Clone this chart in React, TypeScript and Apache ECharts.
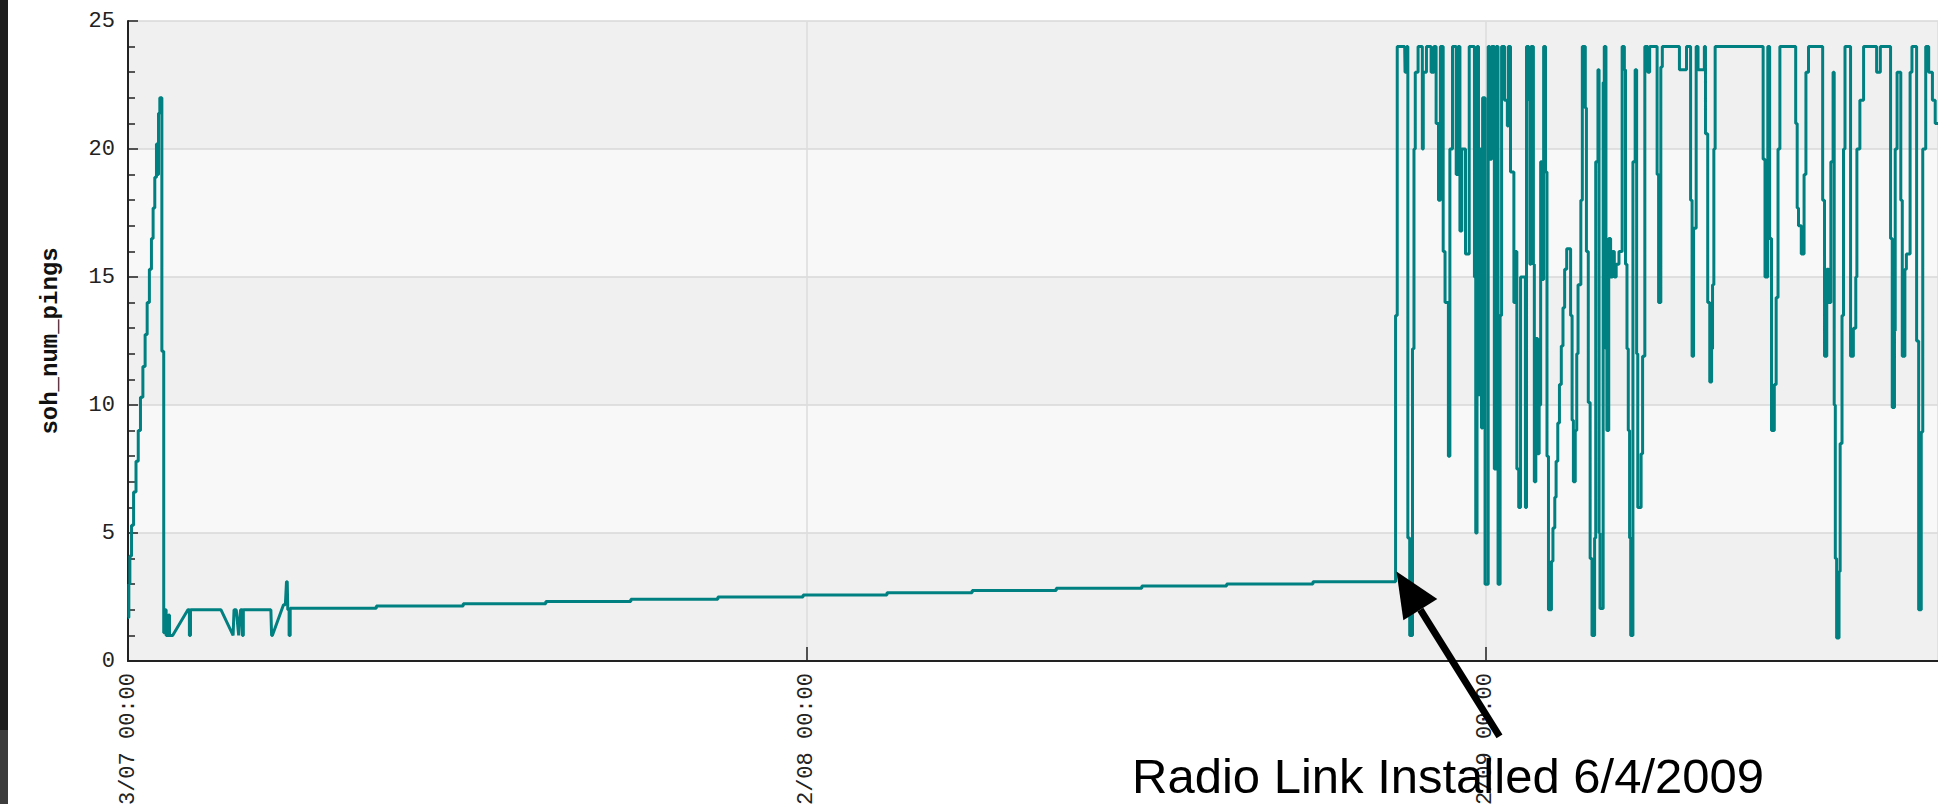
import React, { useEffect, useRef } from "react";
import * as echarts from "echarts";

// x values are days since the first tick (07/23/07 00:00); y values are soh_num_pings
const tickDays = [0, 365, 730];
const tickLabels = ["07/23/07 00:00", "07/22/08 00:00", "07/22/09 00:00"];
const yTickValues = [0, 5, 10, 15, 20, 25];

const rampPoints: [number, number][] = [
  [0, 1.7], [0.45, 1.7], [0.45, 3.0], [1.0, 3.0], [1.0, 4.1], [1.9, 4.1], [1.9, 5.3], [3.0, 5.3],
  [3.0, 6.6], [4.3, 6.6], [4.3, 7.8], [5.5, 7.8], [5.5, 9.0], [6.7, 9.0], [6.7, 10.3], [8.0, 10.3],
  [8.0, 11.5], [9.2, 11.5], [9.2, 12.75], [10.3, 12.75], [10.3, 14.0], [11.5, 14.0], [11.5, 15.3],
  [12.6, 15.3], [12.6, 16.5], [13.5, 16.5], [13.5, 17.7], [14.4, 17.7], [14.4, 18.9], [15.3, 18.9],
  [15.3, 20.2], [16.0, 20.2], [16.0, 19.0], [16.4, 19.0], [16.4, 21.4], [17.1, 21.4], [17.1, 22.0],
  [18.2, 22.0], [18.2, 12.1], [19.2, 12.1], [19.2, 1.1],
];

const lowPoints: [number, number][] = [
  [20.0, 1.1], [20.0, 2.0], [20.5, 2.0], [20.5, 1.0], [21.8, 1.0], [21.8, 1.8], [22.3, 1.8], [22.3, 1.0],
  [24.0, 1.0], [32.2, 2.0], [33.0, 2.0], [33.0, 1.0], [33.6, 1.0], [33.6, 2.0], [50.0, 2.0], [56.5, 1.0],
  [57.0, 2.0], [58.2, 2.0], [59.5, 1.0], [60.5, 2.0], [61.5, 2.0], [61.5, 1.0], [62.0, 1.0], [62.0, 2.0],
  [76.8, 2.0], [77.2, 1.0], [77.6, 1.0], [83.6, 2.2], [84.6, 2.2], [85.2, 3.1], [85.6, 3.1], [85.9, 2.0],
  [86.6, 2.0], [86.6, 1.0], [87.2, 1.0], [87.2, 2.06],
];

const trendPoints: [number, number][] = [
  [133.5, 2.06], [133.5, 2.15], [180.2, 2.15], [180.2, 2.24], [224.6, 2.24], [224.6, 2.32],
  [270.3, 2.32], [270.3, 2.41], [317.1, 2.41], [317.1, 2.5], [362.9, 2.5], [362.9, 2.58],
  [408.0, 2.58], [408.0, 2.67], [453.8, 2.67], [453.8, 2.75], [499.0, 2.75], [499.0, 2.84],
  [545.0, 2.84], [545.0, 2.93], [590.6, 2.93], [590.6, 3.01], [637.0, 3.01], [637.0, 3.1], [681.4, 3.1],
];

const radioPoints: [number, number][] = [
  [681.4, 13.5], [682.3, 13.5], [682.3, 24], [686.3, 24], [686.5, 23], [687.2, 23], [687.4, 24], [688, 24],
  [688, 4.8], [689, 4.8], [689, 1], [690.5, 1], [690.5, 12.2], [691.3, 12.2], [691.3, 20], [692, 20],
  [692, 23], [693.5, 23], [693.5, 24], [695.8, 24], [695.8, 20], [696.3, 20], [696.3, 23], [698, 23],
  [698, 24], [700.5, 24], [700.5, 23], [702, 23], [702, 24], [703.2, 24], [703.2, 21], [704.5, 21],
  [704.5, 18], [705.5, 18], [705.5, 24], [707, 24], [707, 16], [708, 16], [708, 14], [709.8, 14],
  [709.8, 8], [710.6, 8], [710.6, 20], [712, 20], [712, 24], [714, 24], [714, 19], [715, 19],
  [715, 24], [716, 24], [716, 16.8], [717, 16.8], [717, 20], [719, 20], [719, 15.9], [721, 15.9],
  [721, 24], [723.8, 24], [723.8, 15], [724.5, 15], [724.5, 5], [725.2, 5], [725.2, 24], [726, 24],
  [726, 10.4], [727, 10.4], [727, 20], [727.6, 20], [727.6, 9.1], [728.2, 9.1], [728.2, 22], [729.5, 22],
  [729.5, 3], [731.2, 3], [731.2, 24], [732, 24], [732, 19.6], [733, 19.6], [733, 24], [734.5, 24],
  [734.5, 7.5], [735.5, 7.5], [735.5, 24], [736.5, 24], [736.5, 3], [737.6, 3], [737.6, 13.5], [738.4, 13.5],
  [738.4, 24], [740, 24], [740, 21.9], [741.5, 21.9], [741.5, 20.9], [742, 20.9], [742, 24], [743.2, 24],
  [743.2, 19.1], [745, 19.1], [745, 14], [745.8, 14], [745.8, 16], [746.6, 16], [746.6, 7.5], [747.6, 7.5],
  [747.6, 6], [748.6, 6], [748.6, 15], [751.2, 15], [751.2, 6], [751.8, 6], [751.8, 24], [753, 24],
  [753, 21.9], [753.6, 21.9], [753.6, 15.5], [754.2, 15.5], [754.2, 24], [755.5, 24], [755.5, 15.5], [756, 15.5],
  [756, 7], [756.8, 7], [756.8, 12.6], [757.8, 12.6], [757.8, 8.1], [758.6, 8.1], [758.6, 10], [759.4, 10],
  [759.4, 19.5], [760, 19.5], [760, 14.9], [761, 14.9], [761, 24], [762, 24], [762, 19.1], [762.8, 19.1],
  [762.8, 8], [763.6, 8], [763.6, 2], [765.2, 2], [765.2, 3.9], [766, 3.9], [766, 5.2], [767, 5.2],
  [767, 6.4], [767.7, 6.4], [767.7, 7.8], [768.6, 7.8], [768.6, 9.3], [769.5, 9.3], [769.5, 10.8], [770.5, 10.8],
  [770.5, 12.3], [771.4, 12.3], [771.4, 13.8], [772.3, 13.8], [772.3, 15.3], [773.4, 15.3], [773.4, 16.1], [775.5, 16.1],
  [775.5, 13.5], [776.3, 13.5], [776.3, 9.4], [777, 9.4], [777, 7], [778, 7], [778, 9], [778.8, 9],
  [778.8, 12], [779.5, 12], [779.5, 14.7], [781, 14.7], [781, 18], [781.8, 18], [781.8, 24], [783.4, 24],
  [783.4, 21.6], [784, 21.6], [784, 16], [785, 16], [785, 10.1], [786, 10.1], [786, 4], [787, 4],
  [787, 1], [788.4, 1], [788.4, 4.8], [789, 4.8], [789, 19.5], [790.2, 19.5], [790.2, 23.1], [790.8, 23.1],
  [790.8, 5], [791.3, 5], [791.3, 2.05], [793, 2.05], [793, 22.6], [793.6, 22.6], [793.6, 24], [794.5, 24],
  [794.5, 12.2], [795, 12.2], [795, 9], [796, 9], [796, 16.5], [797, 16.5], [797, 15], [798, 15],
  [798, 16], [799, 16], [799, 15], [800, 15], [800, 15.5], [801.5, 15.5], [801.5, 16], [803.2, 16],
  [803.2, 24], [804.4, 24], [804.4, 23.1], [805, 23.1], [805, 15.5], [805.8, 15.5], [805.8, 12.2], [806.5, 12.2],
  [806.5, 9], [807.2, 9], [807.2, 4.8], [807.8, 4.8], [807.8, 1], [809, 1], [809, 19.5], [810.2, 19.5],
  [810.2, 23.1], [811, 23.1], [811, 12], [811.6, 12], [811.6, 6], [813.4, 6], [813.4, 8.1], [814.2, 8.1],
  [814.2, 11.9], [815.4, 11.9], [815.4, 24], [817, 24], [817, 23], [818, 23], [818, 24], [822, 24],
  [822, 19], [822.8, 19], [822.8, 14], [824, 14], [824, 23.2], [824.8, 23.2], [824.8, 24], [834, 24],
  [834, 23.1], [837.8, 23.1], [837.8, 24], [840, 24], [840, 18], [840.8, 18], [840.8, 11.9], [841.6, 11.9],
  [841.6, 16.9], [843, 16.9], [843, 24], [844, 24], [844, 23.1], [847.4, 23.1], [847.4, 24], [848, 24],
  [848, 20.6], [849.2, 20.6], [849.2, 14], [850.3, 14], [850.3, 10.9], [851.3, 10.9], [851.3, 12.2], [851.8, 12.2],
  [851.8, 14.7], [852.5, 14.7], [852.5, 20], [853.2, 20], [853.2, 24], [879, 24], [879, 19.6], [880, 19.6],
  [880, 15], [881.5, 15], [881.5, 24], [882.5, 24], [882.5, 16.5], [883.5, 16.5], [883.5, 9], [885, 9],
  [885, 10.8], [886, 10.8], [886, 14.2], [887, 14.2], [887, 20], [888, 20], [888, 24], [896.5, 24],
  [896.5, 21], [897.3, 21], [897.3, 17.7], [898, 17.7], [898, 17], [899.5, 17], [899.5, 15.9], [901, 15.9],
  [901, 19], [902, 19], [902, 23], [903.4, 23], [903.4, 24], [911, 24], [911, 18], [912, 18],
  [912, 11.9], [913.2, 11.9], [913.2, 15.3], [914.2, 15.3], [914.2, 14], [915.4, 14], [915.4, 19.5], [916.6, 19.5],
  [916.6, 23], [917.2, 23], [917.2, 10], [917.8, 10], [917.8, 4], [918.5, 4], [918.5, 0.9], [919.8, 0.9],
  [919.8, 3.5], [920.4, 3.5], [920.4, 8.5], [921.4, 8.5], [921.4, 13.5], [922.2, 13.5], [922.2, 20], [923, 20],
  [923, 24], [926, 24], [926, 11.9], [927.5, 11.9], [927.5, 13], [928.8, 13], [928.8, 15], [929.4, 15],
  [929.4, 20], [931, 20], [931, 21.9], [933, 21.9], [933, 24], [940, 24], [940, 23], [942, 23],
  [942, 24], [947.5, 24], [947.5, 16.5], [948.4, 16.5], [948.4, 9.9], [949.6, 9.9], [949.6, 12.9], [950, 12.9],
  [950, 20], [951, 20], [951, 23], [953, 23], [953, 18], [953.8, 18], [953.8, 11.9], [955.2, 11.9],
  [955.2, 15.3], [956, 15.3], [956, 15.9], [958, 15.9], [958, 23], [959, 23], [959, 24], [961.5, 24],
  [961.5, 12.5], [962.6, 12.5], [962.6, 2], [964, 2], [964, 8.95], [964.8, 8.95], [964.8, 20], [966.4, 20],
  [966.4, 24], [968, 24], [968, 23], [970, 23], [970, 21.9], [971.5, 21.9], [971.5, 21], [973, 21],
];

const annotationText = "Radio Link Installed 6/4/2009";
const installPoint: [number, number] = [681.9, 3.5];

export default function App() {
  const ref = useRef<HTMLDivElement>(null);

  useEffect(() => {
    if (!ref.current) return;
    const chart = echarts.init(ref.current, null, { renderer: "svg" });
    const data = [...rampPoints, ...lowPoints, ...trendPoints, ...radioPoints];
    const mono = "'Liberation Mono', 'DejaVu Sans Mono', monospace";

    chart.setOption({
      animation: false,
      backgroundColor: "#ffffff",
      grid: {
        left: 128,
        right: 0,
        top: 21,
        bottom: 143,
        containLabel: false,
        outerBoundsMode: "none",
      },
      xAxis: {
        type: "value",
        min: 0,
        max: 973,
        interval: 365,
        axisLine: { show: true, onZero: false, lineStyle: { color: "#222", width: 2 } },
        axisTick: { show: true, inside: true, length: 14, lineStyle: { color: "#222", width: 1.5 } },
        axisLabel: {
          rotate: 90,
          margin: 12,
          color: "#222",
          fontFamily: mono,
          fontSize: 22,
          showMaxLabel: false,
          formatter: (v: number) => {
            const i = tickDays.indexOf(v);
            return i >= 0 ? tickLabels[i] : "";
          },
        },
        splitLine: { show: true, lineStyle: { color: "#dcdcdc", width: 1.5 } },
      },
      yAxis: {
        type: "value",
        min: yTickValues[0],
        max: yTickValues[yTickValues.length - 1],
        interval: 5,
        name: "soh_num_pings",
        nameLocation: "middle",
        nameGap: 66,
        nameRotate: 90,
        nameTextStyle: { fontFamily: mono, fontWeight: "bold", fontSize: 24, color: "#111" },
        axisLine: { show: true, lineStyle: { color: "#222", width: 2 } },
        axisTick: { show: true, inside: true, length: 10, lineStyle: { color: "#222", width: 1.5 } },
        minorTick: { show: true, splitNumber: 5, length: 7, lineStyle: { color: "#222", width: 1.5 } },
        axisLabel: { margin: 13, color: "#222", fontFamily: mono, fontSize: 22 },
        splitLine: { show: true, lineStyle: { color: "#d9d9d9", width: 1.5 } },
        splitArea: { show: true, areaStyle: { color: ["#f0f0f0", "#f8f8f8"] } },
      },
      series: [
        {
          type: "line",
          data,
          showSymbol: false,
          symbol: "none",
          clip: true,
          lineStyle: { color: "#008080", width: 3 },
          z: 3,
        },
      ],
    });

    const tip = chart.convertToPixel({ gridIndex: 0 }, installPoint) as number[];
    const tx = tip[0];
    const ty = tip[1];
    const dx = 103;
    const dy = 165;
    const len = Math.sqrt(dx * dx + dy * dy);
    const ux = dx / len;
    const uy = dy / len;
    const headLen = 45;
    const headHalf = 20;
    const bx = tx + ux * headLen;
    const by = ty + uy * headLen;

    chart.setOption({
      graphic: [
        { type: "rect", shape: { x: 0, y: 0, width: 8, height: 730 }, style: { fill: "#1e1e1e" }, z: 10 },
        { type: "rect", shape: { x: 0, y: 730, width: 8, height: 74 }, style: { fill: "#3c3c3c" }, z: 10 },
        {
          type: "line",
          shape: { x1: bx, y1: by, x2: tx + dx, y2: ty + dy },
          style: { stroke: "#000", lineWidth: 7 },
          z: 20,
        },
        {
          type: "polygon",
          shape: {
            points: [
              [tx, ty],
              [bx - uy * headHalf, by + ux * headHalf],
              [bx + uy * headHalf, by - ux * headHalf],
            ],
          },
          style: { fill: "#000" },
          z: 20,
        },
        {
          type: "text",
          x: 1132,
          y: 776,
          style: {
            text: annotationText,
            fontFamily: "'Liberation Sans', Arial, sans-serif",
            fontSize: 49,
            fill: "#000",
            align: "left",
            verticalAlign: "middle",
          },
          z: 20,
        },
      ],
    });

    return () => chart.dispose();
  }, []);

  return (
    <div
      ref={ref}
      style={{ position: "fixed", left: 0, top: 0, width: 1938, height: 804, background: "#fff" }}
    />
  );
}
